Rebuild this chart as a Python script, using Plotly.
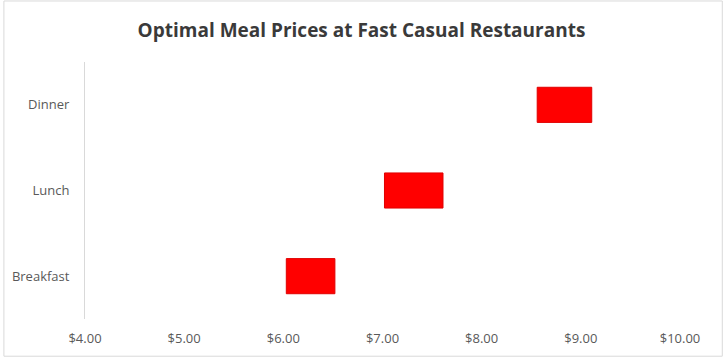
import plotly.graph_objects as go

categories = ["Breakfast", "Lunch", "Dinner"]
low_prices = [6.03, 7.02, 8.56]
high_prices = [6.52, 7.61, 9.11]
tick_values = [4, 5, 6, 7, 8, 9, 10]
tick_labels = ["$4.00", "$5.00", "$6.00", "$7.00", "$8.00", "$9.00", "$10.00"]

W, H = 723, 359
ml, mr, mt, mb = 82, 43, 62, 38
pw, ph = W - ml - mr, H - mt - mb

fig = go.Figure()
fig.add_trace(go.Bar(
    y=categories,
    x=[h - l for l, h in zip(low_prices, high_prices)],
    base=low_prices,
    orientation="h",
    marker=dict(color="#ff0000", line=dict(color="#e00000", width=1)),
    width=0.41,
    hoverinfo="x+y",
))

fig.update_layout(
    width=W, height=H,
    margin=dict(l=ml, r=mr, t=mt, b=mb),
    paper_bgcolor="white", plot_bgcolor="white",
    showlegend=False,
    title=dict(text="<b>Optimal Meal Prices at Fast Casual Restaurants</b>",
               x=0.5, xanchor="center", y=1 - 30 / H, yanchor="middle",
               font=dict(family="Open Sans", size=19, color="#3a3a3a")),
    font=dict(family="Open Sans", color="#595959", size=13),
    xaxis=dict(range=[4, 10], tickvals=tick_values, ticktext=tick_labels,
               showgrid=False, zeroline=False, showline=False, ticks="",
               ticklabelstandoff=10, tickfont=dict(size=13, color="#595959")),
    yaxis=dict(showgrid=False, zeroline=False, showline=True, linecolor="#d9d9d9",
               linewidth=1, ticks="", ticklabelstandoff=12,
               tickfont=dict(size=13, color="#595959"), range=[-0.5, 2.5]),
    shapes=[dict(type="rect", xref="paper", yref="paper",
                 x0=-(ml - 0.5) / pw, x1=1 + (mr - 0.5) / pw,
                 y0=-(mb - 0.5) / ph, y1=1 + (mt - 0.5) / ph,
                 line=dict(color="#d9d9d9", width=1))],
)

fig.write_html("out.html", config={"displayModeBar": False},
               post_script="document.body.style.margin='0';document.body.style.padding='0';")
